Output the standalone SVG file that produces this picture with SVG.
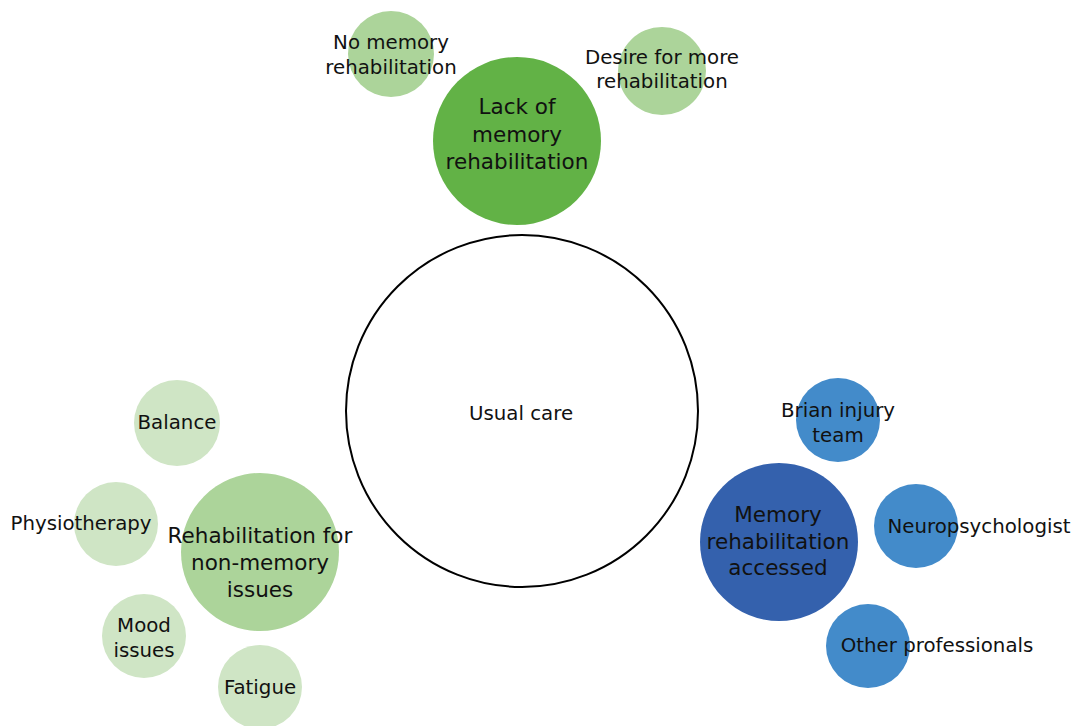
<svg xmlns="http://www.w3.org/2000/svg" width="1074" height="726" viewBox="0 0 1074 726">
<style>
text{font-family:"DejaVu Sans","Open Sans",sans-serif;font-size:19.8px;fill:#111;text-anchor:middle}
.big{font-size:21.5px}
.dg{fill:#62b246}
.lg{fill:#acd49a}
.xg{fill:#cfe5c5}
.db{fill:#3461ad}
.mb{fill:#438bca}
</style>
<rect width="1074" height="726" fill="#fff"/>
<g id="connectors"></g>
<g id="usual-care">
<circle cx="522" cy="411" r="176" fill="#fff" stroke="#000" stroke-width="2"/>
<text x="521" y="420">Usual care</text>
</g>
<g id="no-memory-rehab">
<circle class="lg" cx="391" cy="54" r="43"/>
<text x="391" y="49">No memory<tspan x="391" dy="25">rehabilitation</tspan></text>
</g>
<g id="desire-more-rehab">
<circle class="lg" cx="662" cy="71" r="44"/>
<text x="662" y="64">Desire for more<tspan x="662" dy="24">rehabilitation</tspan></text>
</g>
<g id="lack-memory-rehab">
<circle class="dg" cx="517" cy="141" r="84"/>
<text class="big" x="517" y="114">Lack of<tspan x="517" dy="28">memory</tspan><tspan x="517" dy="27">rehabilitation</tspan></text>
</g>
<g id="balance">
<circle class="xg" cx="177" cy="423" r="43"/>
<text x="177" y="429">Balance</text>
</g>
<g id="physiotherapy">
<circle class="xg" cx="116" cy="524" r="42"/>
<text x="81" y="530">Physiotherapy</text>
</g>
<g id="mood-issues">
<circle class="xg" cx="144" cy="636" r="42"/>
<text x="144" y="632">Mood<tspan x="144" dy="25">issues</tspan></text>
</g>
<g id="fatigue">
<circle class="xg" cx="260" cy="687" r="42"/>
<text x="260" y="694">Fatigue</text>
</g>
<g id="rehab-non-memory">
<circle class="lg" cx="260" cy="552" r="79"/>
<text class="big" x="260" y="543">Rehabilitation for<tspan x="260" dy="27">non-memory</tspan><tspan x="260" dy="27">issues</tspan></text>
</g>
<g id="brian-injury-team">
<circle class="mb" cx="838" cy="420" r="42"/>
<text x="838" y="417">Brian injury<tspan x="838" dy="25">team</tspan></text>
</g>
<g id="neuropsychologist">
<circle class="mb" cx="916" cy="526" r="42"/>
<text x="979" y="533">Neuropsychologist</text>
</g>
<g id="other-professionals">
<circle class="mb" cx="868" cy="646" r="42"/>
<text x="937" y="652">Other professionals</text>
</g>
<g id="memory-rehab-accessed">
<circle class="db" cx="779" cy="542" r="79"/>
<text class="big" x="778" y="522">Memory<tspan x="778" dy="27">rehabilitation</tspan><tspan x="778" dy="26">accessed</tspan></text>
</g>
</svg>
